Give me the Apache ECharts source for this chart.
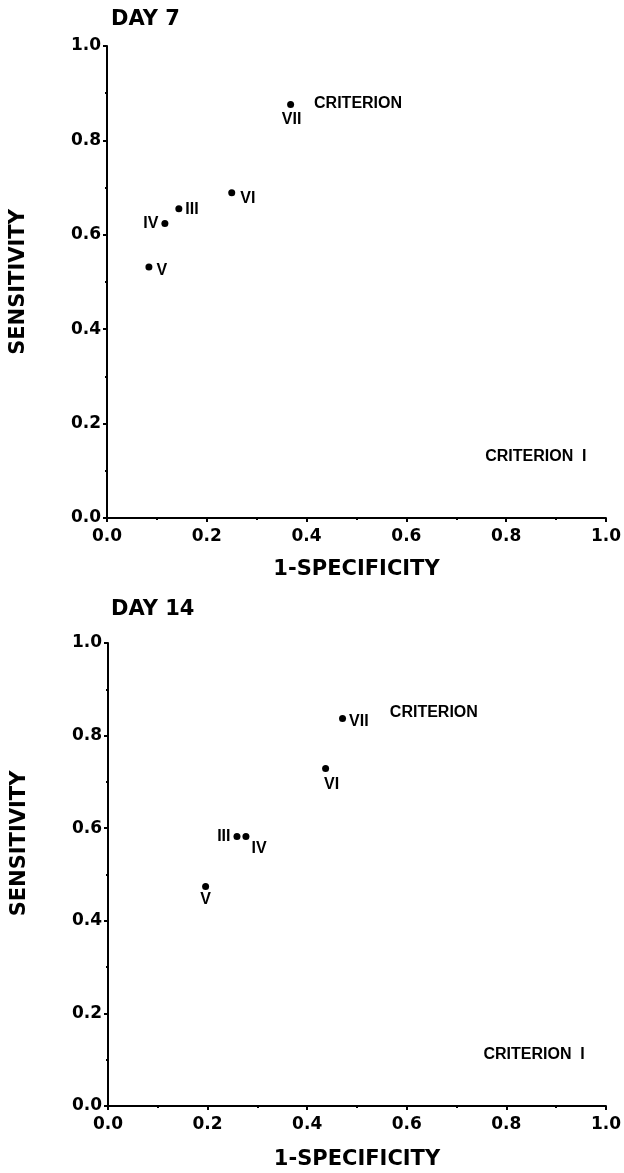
<!DOCTYPE html>
<html>
<head>
<meta charset="utf-8">
<title>ROC criteria</title>
<script src="https://cdn.jsdelivr.net/npm/echarts@6/dist/echarts.min.js"></script>
<style>
    html, body { margin: 0; padding: 0; background: #fff; }
    #chart { width: 624px; height: 1173px; }
</style>
</head>
<body>
<div id="chart"></div>
<script>
// 数据
var criteria = ['III', 'IV', 'V', 'VI', 'VII'];
var day7Fpr = [0.144, 0.116, 0.084, 0.250, 0.368];
var day7Sens = [0.655, 0.624, 0.532, 0.689, 0.876];
var day14Fpr = [0.259, 0.277, 0.196, 0.437, 0.471];
var day14Sens = [0.582, 0.582, 0.474, 0.729, 0.837];
var panelTitles = ['DAY 7', 'DAY 14'];
var noteText = ['CRITERION', 'CRITERION  I'];
var day7NoteX = [0.415, 0.758];
var day7NoteY = [0.879, 0.131];
var day14NoteX = [0.566, 0.754];
var day14NoteY = [0.849, 0.110];

// 标签位置 [position, distance, offset]
var day7Places = [['right', 3, [0, 1]], ['left', 3, [0, 0]], ['right', 4, [0, 4]], ['right', 5, [0, 6]], ['bottom', 4, [1, 0]]];
var day14Places = [['left', 3, [0, 0]], ['right', 2, [0, 12]], ['bottom', 2, [0, 0]], ['bottom', 5, [6, 0]], ['right', 3, [0, 3]]];

var wideFont = 'DejaVu Sans';
var tightFont = 'Liberation Sans';

function buildPoints(xs, ys, places) {
    return criteria.map(function (c, i) {
        var p = places[i];
        return {
            name: c,
            value: [xs[i], ys[i]],
            label: { position: p[0], distance: p[1], offset: p[2] }
        };
    });
}

function buildNotes(xs, ys) {
    return noteText.map(function (t, i) {
        return { name: t, value: [xs[i], ys[i]] };
    });
}

function makeXAxis(idx, gap) {
    return {
        type: 'value', gridIndex: idx, min: 0, max: 1, interval: 0.2,
        name: '1-SPECIFICITY', nameLocation: 'middle', nameGap: gap,
        nameTextStyle: { fontFamily: wideFont, fontWeight: 'bold', fontSize: 21, color: '#000' },
        axisLine: { lineStyle: { color: '#000', width: 2 } },
        axisTick: { length: 4, lineStyle: { width: 2 } },
        minorTick: { show: true, splitNumber: 2, length: 2, lineStyle: { color: '#000', width: 2 } },
        splitLine: { show: false },
        axisLabel: {
            margin: 10, fontFamily: wideFont, fontWeight: 'bold', fontSize: 17, color: '#000',
            formatter: function (v) { return v.toFixed(1); }
        }
    };
}

function makeYAxis(idx, pad) {
    return {
        type: 'value', gridIndex: idx, min: 0, max: 1, interval: 0.2,
        name: 'SENSITIVITY', nameLocation: 'middle', nameGap: 78,
        nameTextStyle: { fontFamily: wideFont, fontWeight: 'bold', fontSize: 21, color: '#000', padding: pad },
        axisLine: { lineStyle: { color: '#000', width: 2 } },
        axisTick: { length: 4, lineStyle: { width: 2 } },
        minorTick: { show: true, splitNumber: 2, length: 2, lineStyle: { color: '#000', width: 2 } },
        splitLine: { show: false },
        axisLabel: {
            margin: 6, fontFamily: wideFont, fontWeight: 'bold', fontSize: 17, color: '#000',
            formatter: function (v) { return v.toFixed(1); }
        }
    };
}

function pointSeries(idx, data) {
    return {
        type: 'scatter', xAxisIndex: idx, yAxisIndex: idx,
        symbol: 'circle', symbolSize: 7,
        itemStyle: { color: '#000', opacity: 1 },
        label: {
            show: true, formatter: '{b}', color: '#000', opacity: 1,
            fontFamily: tightFont, fontWeight: 'bold', fontSize: 16
        },
        data: data
    };
}

function noteSeries(idx, data) {
    return {
        type: 'scatter', xAxisIndex: idx, yAxisIndex: idx,
        symbolSize: 0, silent: true,
        itemStyle: { opacity: 1 },
        label: {
            show: true, position: 'right', distance: 0, formatter: '{b}', color: '#000', opacity: 1,
            fontFamily: tightFont, fontWeight: 'bold', fontSize: 16
        },
        data: data
    };
}

$ready();

function $ready() {
    var myChart = echarts.init(document.getElementById('chart'));
    var titleStyle = { fontFamily: wideFont, fontWeight: 'bold', fontSize: 21, color: '#000' };

    var option = {
        backgroundColor: '#fff',
        animation: false,
        title: [
            { text: panelTitles[0], left: 106, top: 4, textStyle: titleStyle },
            { text: panelTitles[1], left: 106, top: 594, textStyle: titleStyle }
        ],
        grid: [
            { left: 107, right: 16, top: 46, height: 472 },
            { left: 108, right: 16, top: 643, height: 463 }
        ],
        xAxis: [makeXAxis(0, 41), makeXAxis(1, 43)],
        yAxis: [makeYAxis(0, 0), makeYAxis(1, [0, 0, 0, 62])],
        series: [
            pointSeries(0, buildPoints(day7Fpr, day7Sens, day7Places)),
            noteSeries(0, buildNotes(day7NoteX, day7NoteY)),
            pointSeries(1, buildPoints(day14Fpr, day14Sens, day14Places)),
            noteSeries(1, buildNotes(day14NoteX, day14NoteY))
        ]
    };
    myChart.setOption(option);
}
</script>
</body>
</html>
